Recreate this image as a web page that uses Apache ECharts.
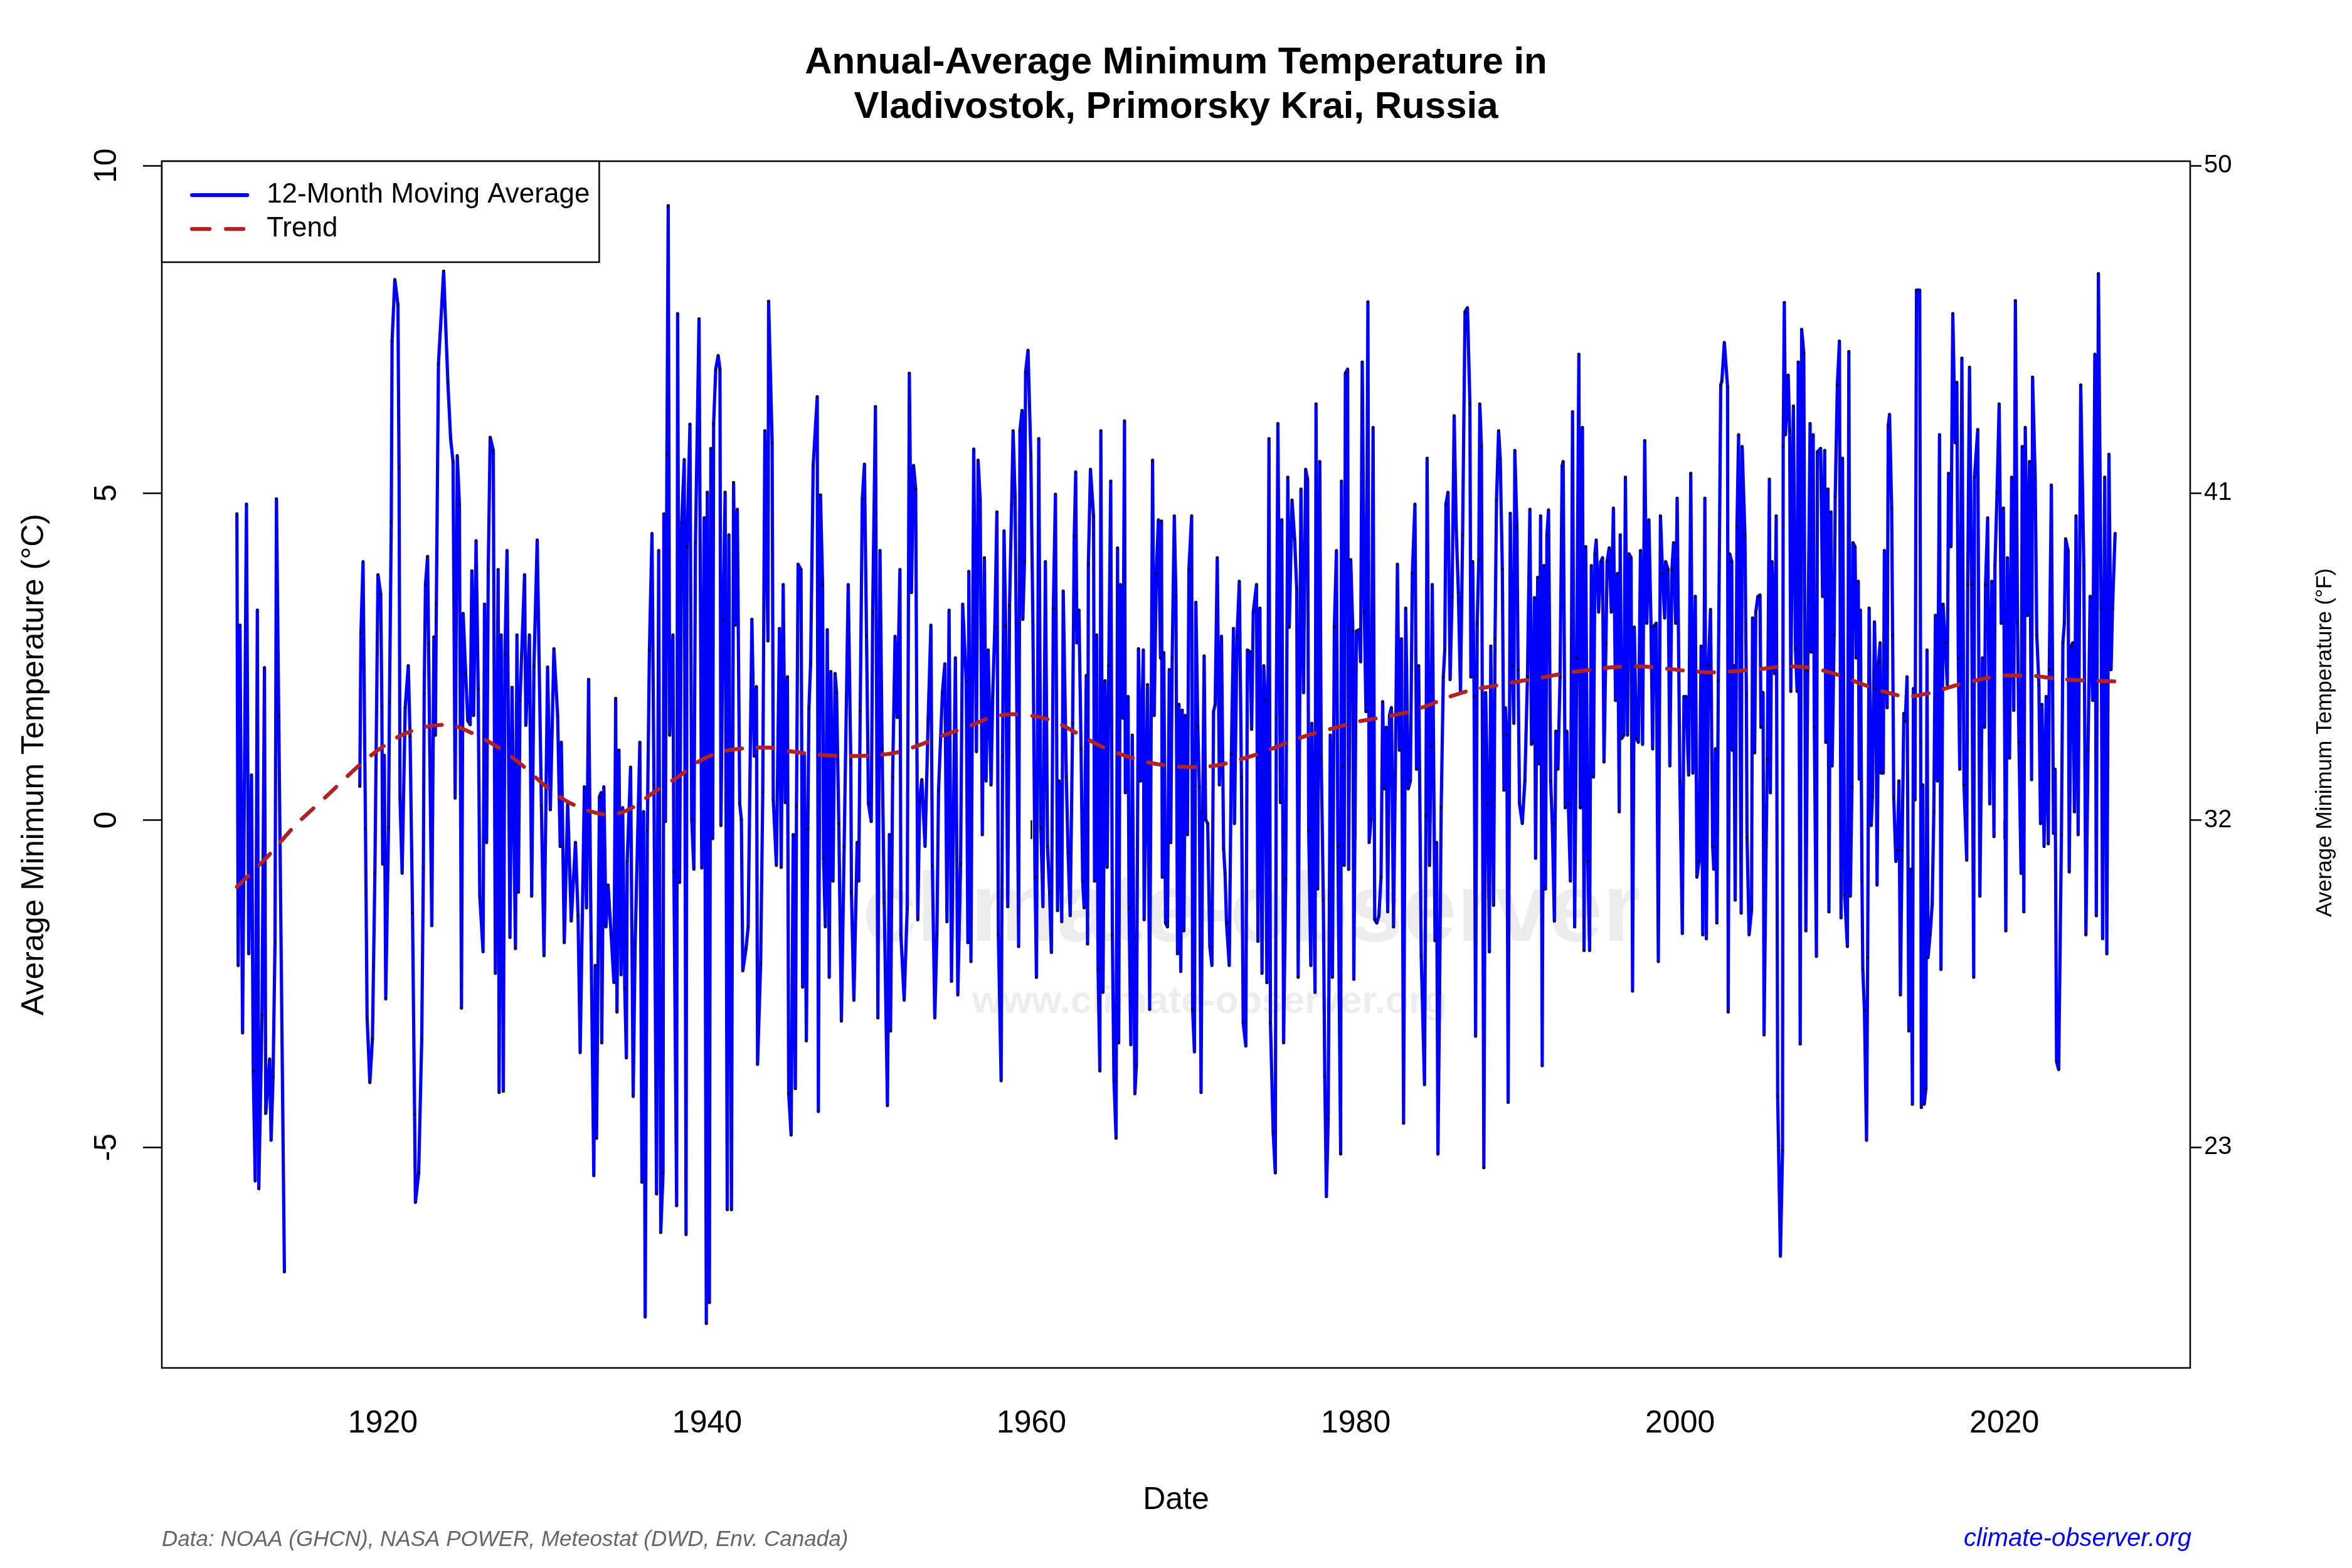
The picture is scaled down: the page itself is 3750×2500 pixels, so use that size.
<!DOCTYPE html>
<html>
<head>
<meta charset="utf-8">
<title>Annual-Average Minimum Temperature in Vladivostok</title>
<script src="https://cdn.jsdelivr.net/npm/echarts/dist/echarts.min.js"></script>
<style>
  html, body { margin: 0; padding: 0; background: #fff; }
  #main { width: 3750px; height: 2500px; }
</style>
</head>
<body>
<div id="main"></div>
<script>
// 12-month moving average of minimum temperature, [decimal year, degC]
var movingAvg = [
  [1911.00,4.68],[1911.08,-2.22],[1911.19,2.98],[1911.35,-3.25],[1911.59,4.83],[1911.73,-2.04],[1911.90,0.69],[1912.01,-3.84],
  [1912.13,-5.51],[1912.26,3.21],[1912.35,-5.63],[1912.55,-2.98],[1912.70,2.33],[1912.78,-4.48],[1913.02,-3.65],[1913.11,-4.89],
  [1913.23,-3.92],[1913.35,-1.87],[1913.44,4.91],[1913.58,1.60],[1913.93,-6.90],
  [1916.20,null],
  [1918.58,0.52],[1918.65,2.87],[1918.78,3.95],[1918.93,-0.13],[1919.03,-3.02],[1919.20,-4.01],[1919.36,-3.34],[1919.51,-0.81],
  [1919.70,3.75],[1919.87,3.45],[1919.94,1.74],[1919.99,-0.67],[1920.09,0.99],[1920.18,-2.73],[1920.35,-0.11],[1920.41,1.80],
  [1920.52,4.56],[1920.57,7.32],[1920.74,8.26],[1920.93,7.88],[1921.00,5.38],[1921.06,0.34],[1921.19,-0.81],[1921.38,1.72],
  [1921.57,2.36],[1921.68,1.28],[1921.83,-1.42],[1921.96,-4.49],[1922.01,-5.84],[1922.21,-5.39],[1922.40,-3.34],[1922.50,-0.72],
  [1922.55,1.94],[1922.63,3.60],[1922.76,4.03],[1922.82,2.69],[1923.02,-1.61],[1923.15,2.80],[1923.24,1.30],[1923.30,3.30],
  [1923.43,6.97],[1923.75,8.39],[1924.01,6.69],[1924.18,5.83],[1924.33,5.48],[1924.46,0.34],[1924.59,5.57],[1924.72,4.83],
  [1924.85,-2.87],[1924.95,3.16],[1925.11,2.24],[1925.24,1.52],[1925.39,1.46],[1925.49,3.81],[1925.60,1.60],[1925.75,4.27],
  [1925.88,2.01],[1925.98,-1.16],[1926.18,-2.01],[1926.27,3.30],[1926.40,-0.34],[1926.50,3.83],[1926.62,5.85],[1926.81,5.65],
  [1926.94,-2.34],[1927.11,3.83],[1927.17,-4.16],[1927.30,2.83],[1927.43,-4.14],[1927.53,2.54],[1927.66,4.12],[1927.84,-1.79],
  [1927.97,2.03],[1928.18,-1.96],[1928.27,2.83],[1928.36,-1.10],[1928.46,1.83],[1928.74,3.75],[1928.82,1.45],[1929.04,2.83],
  [1929.18,-1.16],[1929.32,2.36],[1929.52,4.28],[1929.78,0.22],[1929.94,-2.07],[1930.16,2.34],[1930.33,0.16],[1930.55,2.62],
  [1930.78,1.60],[1930.94,-0.40],[1931.01,1.19],[1931.19,-1.87],[1931.40,0.25],[1931.62,-1.54],[1931.88,-0.34],[1932.04,-1.46],
  [1932.17,-3.55],[1932.43,0.51],[1932.56,-1.34],[1932.69,2.15],[1932.84,-1.79],[1933.01,-5.43],[1933.10,-2.22],[1933.18,-4.86],
  [1933.36,0.36],[1933.46,0.42],[1933.50,-3.40],[1933.63,0.51],[1933.76,-1.63],[1933.89,-0.99],[1934.08,-1.75],[1934.25,-2.48],
  [1934.36,1.86],[1934.44,-2.93],[1934.56,1.07],[1934.69,-2.36],[1934.79,0.19],[1934.92,-2.57],[1935.02,-3.63],[1935.07,-0.63],
  [1935.28,0.81],[1935.44,-4.22],[1935.56,-1.89],[1935.85,1.19],[1935.98,-5.53],[1936.08,0.13],[1936.18,-7.59],[1936.31,-0.16],
  [1936.44,2.60],[1936.60,4.38],[1936.72,0.54],[1936.88,-5.71],[1937.01,4.12],[1937.14,-6.30],[1937.28,-5.39],[1937.33,4.68],
  [1937.43,-0.02],[1937.52,5.59],[1937.60,9.39],[1937.69,1.30],[1937.89,2.83],[1937.95,-0.79],[1938.12,-5.89],[1938.18,7.74],
  [1938.30,-0.95],[1938.43,4.54],[1938.59,5.51],[1938.70,-6.33],[1938.76,4.18],[1938.94,6.05],[1939.05,0.01],[1939.18,-0.75],
  [1939.28,4.24],[1939.50,7.66],[1939.67,-0.73],[1939.82,4.62],[1939.95,-7.69],[1940.01,5.01],[1940.14,-7.37],[1940.23,5.68],
  [1940.34,-0.28],[1940.40,6.06],[1940.53,6.89],[1940.68,7.10],[1940.79,6.89],[1940.85,-0.08],[1940.98,3.07],[1941.11,5.01],
  [1941.24,-5.95],[1941.34,4.36],[1941.50,-5.95],[1941.63,5.16],[1941.73,2.98],[1941.86,4.75],[1942.01,0.25],[1942.11,0.01],
  [1942.20,-2.30],[1942.40,-1.96],[1942.53,-1.63],[1942.76,3.07],[1942.91,0.98],[1943.04,2.04],[1943.11,-3.73],[1943.30,-2.19],
  [1943.43,0.42],[1943.56,5.95],[1943.75,2.74],[1943.79,7.93],[1944.01,5.77],[1944.08,0.31],[1944.27,-0.69],[1944.46,2.93],
  [1944.57,-0.72],[1944.69,3.60],[1944.82,0.27],[1944.95,2.19],[1945.03,-4.18],[1945.18,-4.81],[1945.31,-0.22],[1945.44,-4.10],
  [1945.51,0.21],[1945.61,3.91],[1945.79,3.83],[1945.89,-2.55],[1945.99,1.01],[1946.12,-3.37],[1946.21,-0.13],[1946.28,1.72],
  [1946.38,2.39],[1946.54,5.42],[1946.79,6.47],[1946.86,-4.45],[1946.99,4.97],[1947.12,3.60],[1947.18,-0.58],[1947.29,-1.63],
  [1947.41,2.91],[1947.53,-2.40],[1947.63,2.27],[1947.76,-0.93],[1947.89,2.24],[1947.98,1.95],[1948.12,-0.05],[1948.28,-3.07],
  [1948.45,-0.40],[1948.70,3.60],[1948.86,0.89],[1948.90,-1.10],[1949.05,-2.75],[1949.25,-0.34],[1949.35,-0.93],[1949.44,1.68],
  [1949.57,4.91],[1949.70,5.44],[1949.83,2.81],[1949.95,0.25],[1950.12,-0.02],[1950.21,3.18],[1950.38,6.32],[1950.53,-3.02],
  [1950.66,4.12],[1950.79,1.09],[1950.92,-1.26],[1951.12,-4.36],[1951.24,-0.22],[1951.31,-3.22],[1951.44,0.66],[1951.59,2.81],
  [1951.72,1.57],[1951.89,3.83],[1951.95,-1.75],[1952.15,-2.75],[1952.34,-1.34],[1952.47,6.83],[1952.60,3.48],[1952.73,5.42],
  [1952.86,5.06],[1952.99,-1.52],[1953.11,0.31],[1953.24,0.62],[1953.44,-0.40],[1953.63,1.54],[1953.80,2.98],[1953.89,-0.69],
  [1954.04,-3.02],[1954.17,-1.75],[1954.27,0.45],[1954.51,1.95],[1954.66,2.39],[1954.79,-1.55],[1954.92,3.21],[1955.07,-2.46],
  [1955.31,2.48],[1955.46,-2.67],[1955.63,-0.67],[1955.76,3.30],[1955.98,2.13],[1956.08,-1.87],[1956.14,3.80],[1956.27,-2.16],
  [1956.44,5.67],[1956.61,1.05],[1956.71,5.50],[1956.84,4.89],[1956.97,-0.22],[1957.10,4.01],[1957.20,0.60],[1957.33,2.60],
  [1957.51,0.54],[1957.61,1.89],[1957.74,2.95],[1957.87,4.71],[1957.96,-1.75],[1958.13,-3.98],[1958.22,0.98],[1958.31,4.42],
  [1958.41,2.97],[1958.54,-1.32],[1958.65,3.28],[1958.78,4.83],[1958.87,5.95],[1958.99,4.95],[1959.06,3.01],[1959.21,-1.93],
  [1959.29,5.95],[1959.42,6.26],[1959.47,3.07],[1959.57,3.95],[1959.64,6.85],[1959.79,7.18],[1959.96,5.59],[1960.09,3.03],
  [1960.22,-0.87],[1960.31,-2.40],[1960.45,5.83],[1960.58,-0.11],[1960.71,-1.32],[1960.86,3.95],[1960.99,-0.40],[1961.12,-1.10],
  [1961.23,-2.02],[1961.35,3.24],[1961.48,4.98],[1961.61,-1.38],[1961.70,0.60],[1961.87,-1.55],[1961.96,3.50],[1962.15,0.66],
  [1962.26,-0.49],[1962.39,-1.46],[1962.54,1.48],[1962.64,4.34],[1962.73,5.32],[1962.80,2.71],[1962.93,3.21],[1963.06,1.09],
  [1963.16,-0.93],[1963.25,-1.34],[1963.38,2.21],[1963.46,-1.89],[1963.51,3.91],[1963.64,5.36],[1963.83,4.65],[1963.89,-0.93],
  [1964.02,2.83],[1964.11,-2.28],[1964.22,-3.83],[1964.28,5.95],[1964.41,-2.63],[1964.54,2.13],[1964.67,-0.72],[1964.77,2.36],
  [1964.89,5.18],[1964.99,-1.75],[1965.09,-3.98],[1965.22,-4.86],[1965.31,4.16],[1965.38,-3.40],[1965.48,3.60],[1965.64,1.56],
  [1965.74,6.10],[1965.79,0.42],[1965.96,1.89],[1966.02,-1.34],[1966.13,-3.43],[1966.22,1.30],[1966.38,-4.18],[1966.47,-3.75],
  [1966.60,2.62],[1966.73,0.60],[1966.90,2.60],[1966.95,-1.52],[1967.16,2.07],[1967.29,-2.89],[1967.47,5.50],[1967.57,1.60],
  [1967.70,3.77],[1967.83,4.59],[1967.96,2.48],[1968.02,4.57],[1968.07,-0.87],[1968.16,2.56],[1968.27,-1.57],[1968.39,-1.63],
  [1968.50,2.30],[1968.59,-0.34],[1968.68,2.48],[1968.81,4.65],[1968.91,3.42],[1969.01,-2.04],[1969.10,1.77],[1969.21,-2.31],
  [1969.30,1.68],[1969.40,-1.69],[1969.49,1.60],[1969.62,-0.22],[1969.71,3.83],[1969.88,4.65],[1969.94,-2.89],[1970.05,-3.54],
  [1970.14,3.33],[1970.26,1.42],[1970.35,0.51],[1970.46,-4.16],[1970.56,0.13],[1970.65,2.51],[1970.74,0.01],[1970.87,-0.05],
  [1971.00,-1.93],[1971.13,-2.22],[1971.23,1.66],[1971.33,1.77],[1971.46,4.01],[1971.59,0.54],[1971.72,2.81],[1971.85,-0.43],
  [1971.94,-0.81],[1972.03,-1.57],[1972.20,-2.22],[1972.33,1.01],[1972.46,2.93],[1972.52,-0.05],[1972.68,2.81],[1972.82,3.65],
  [1972.95,0.66],[1973.06,-3.10],[1973.22,-3.45],[1973.32,2.60],[1973.49,2.57],[1973.58,1.39],[1973.68,3.18],[1973.88,3.60],
  [1973.97,-1.85],[1974.09,3.24],[1974.22,-2.34],[1974.33,2.36],[1974.42,1.83],[1974.52,-2.48],[1974.65,5.83],[1974.74,-3.10],
  [1974.91,-4.78],[1975.04,-5.39],[1975.10,1.56],[1975.20,6.06],[1975.36,0.27],[1975.44,4.59],[1975.55,-3.40],[1975.68,-0.90],
  [1975.81,5.24],[1975.90,2.95],[1976.07,4.89],[1976.23,4.30],[1976.36,3.54],[1976.45,-2.40],[1976.62,5.06],[1976.78,1.95],
  [1976.91,5.36],[1977.03,5.21],[1977.10,-0.16],[1977.23,-2.22],[1977.29,1.48],[1977.49,-2.63],[1977.55,6.36],[1977.65,-1.05],
  [1977.78,5.48],[1977.87,0.95],[1978.00,-1.22],[1978.09,-3.92],[1978.19,-5.75],[1978.30,-4.57],[1978.43,1.30],[1978.56,-2.40],
  [1978.68,2.95],[1978.81,4.12],[1978.90,-0.40],[1979.07,-5.10],[1979.12,5.18],[1979.23,0.83],[1979.29,-0.69],[1979.36,6.83],
  [1979.50,6.89],[1979.56,-0.75],[1979.69,3.98],[1979.82,2.89],[1979.88,-2.43],[1980.04,2.89],[1980.21,2.91],[1980.30,2.42],
  [1980.40,7.00],[1980.53,3.18],[1980.63,1.66],[1980.75,7.92],[1980.83,-0.34],[1980.94,0.01],[1981.07,6.00],[1981.17,-1.52],
  [1981.30,-1.57],[1981.43,-1.46],[1981.56,-0.87],[1981.66,1.81],[1981.75,0.48],[1981.88,1.42],[1981.97,-1.40],[1982.08,1.60],
  [1982.20,1.72],[1982.33,-1.63],[1982.44,0.72],[1982.57,3.91],[1982.69,1.07],[1982.82,2.77],[1982.95,-4.63],[1983.08,3.24],
  [1983.24,0.48],[1983.37,0.60],[1983.49,3.77],[1983.65,4.83],[1983.75,0.78],[1983.88,2.36],[1984.04,-2.08],[1984.24,-4.04],
  [1984.33,0.07],[1984.40,5.53],[1984.55,-0.69],[1984.65,1.13],[1984.72,3.60],[1984.89,-1.84],[1984.98,-0.34],[1985.07,-5.10],
  [1985.17,-2.63],[1985.27,0.19],[1985.40,2.19],[1985.49,2.60],[1985.56,4.83],[1985.69,5.01],[1985.82,2.15],[1985.94,3.42],
  [1986.07,6.18],[1986.20,4.42],[1986.33,3.48],[1986.46,1.95],[1986.59,4.36],[1986.74,7.77],[1986.89,7.83],[1987.04,6.36],
  [1987.10,2.19],[1987.21,3.95],[1987.30,1.89],[1987.39,-3.30],[1987.49,3.01],[1987.59,3.98],[1987.65,6.36],[1987.75,5.71],
  [1987.90,-5.31],[1988.01,1.95],[1988.14,0.25],[1988.24,-2.01],[1988.33,2.66],[1988.50,-1.30],[1988.59,2.77],[1988.68,4.89],
  [1988.81,5.95],[1988.91,5.53],[1989.04,3.83],[1989.14,0.46],[1989.23,1.72],[1989.32,1.30],[1989.40,-4.31],[1989.53,4.69],
  [1989.66,2.36],[1989.75,1.48],[1989.81,5.65],[1989.94,4.48],[1990.01,2.30],[1990.10,0.25],[1990.27,-0.05],[1990.43,0.60],
  [1990.59,2.19],[1990.74,4.75],[1990.84,1.16],[1990.91,1.19],[1991.02,3.40],[1991.09,-0.58],[1991.22,3.71],[1991.31,0.86],
  [1991.40,4.65],[1991.50,-3.75],[1991.60,3.89],[1991.70,-1.05],[1991.79,4.36],[1991.89,4.74],[1992.02,0.60],[1992.12,-0.05],
  [1992.25,-1.54],[1992.34,1.36],[1992.47,0.78],[1992.60,2.19],[1992.73,5.42],[1992.79,5.48],[1992.92,0.19],[1993.02,1.36],
  [1993.11,0.25],[1993.24,-0.93],[1993.37,6.24],[1993.50,-1.63],[1993.63,2.48],[1993.76,7.12],[1993.85,0.19],[1993.98,6.00],
  [1994.08,-1.99],[1994.18,4.18],[1994.31,-0.63],[1994.42,-1.99],[1994.53,3.89],[1994.66,0.66],[1994.75,4.07],[1994.83,4.28],
  [1994.98,3.18],[1995.11,3.95],[1995.22,4.01],[1995.31,0.89],[1995.43,2.71],[1995.50,3.95],[1995.63,4.16],[1995.76,3.18],
  [1995.89,4.77],[1996.02,1.83],[1996.14,3.77],[1996.25,0.13],[1996.31,4.36],[1996.40,1.25],[1996.53,1.30],[1996.63,5.24],
  [1996.76,1.30],[1996.85,4.07],[1996.98,4.01],[1997.07,-2.61],[1997.18,2.95],[1997.30,1.25],[1997.43,1.19],[1997.56,4.12],
  [1997.69,1.16],[1997.82,5.80],[1997.95,3.01],[1998.08,4.59],[1998.21,2.95],[1998.31,1.09],[1998.40,2.97],[1998.53,3.01],
  [1998.66,-2.16],[1998.79,4.65],[1998.92,3.77],[1999.05,3.09],[1999.11,3.95],[1999.26,3.83],[1999.37,0.83],[1999.50,3.83],
  [1999.60,4.24],[1999.73,3.01],[1999.82,4.92],[1999.99,0.60],[2000.14,-1.73],[2000.24,1.89],[2000.37,1.89],[2000.53,0.69],
  [2000.66,5.30],[2000.79,0.72],[2000.94,3.42],[2001.04,-0.87],[2001.17,-0.63],[2001.30,2.66],[2001.40,-1.75],[2001.53,4.92],
  [2001.62,-1.81],[2001.75,2.36],[2001.88,3.22],[2002.01,-0.40],[2002.08,-0.75],[2002.18,1.09],[2002.27,-1.57],[2002.36,2.13],
  [2002.51,6.65],[2002.58,6.71],[2002.73,7.30],[2002.93,6.62],[2002.97,-2.93],[2003.06,4.07],[2003.19,3.95],[2003.22,1.07],
  [2003.31,2.36],[2003.40,-1.22],[2003.51,4.48],[2003.61,5.89],[2003.77,-1.42],[2003.83,5.71],[2004.00,4.36],[2004.09,1.92],
  [2004.13,-0.26],[2004.26,-1.75],[2004.41,-1.37],[2004.47,3.09],[2004.60,1.03],[2004.67,3.18],[2004.80,3.42],[2004.93,3.44],
  [2004.99,1.42],[2005.12,1.95],[2005.18,-3.28],[2005.31,-0.34],[2005.38,0.93],[2005.51,5.21],[2005.57,0.42],[2005.67,3.95],
  [2005.83,2.24],[2005.93,4.65],[2006.02,-4.22],[2006.19,-6.66],[2006.32,-5.04],[2006.36,5.71],[2006.43,7.91],[2006.50,5.89],
  [2006.67,6.80],[2006.76,5.95],[2006.83,1.97],[2006.99,6.33],[2007.12,2.62],[2007.22,1.97],[2007.29,7.00],[2007.41,-3.42],
  [2007.50,7.50],[2007.63,7.14],[2007.76,-1.69],[2007.87,2.28],[2008.02,6.06],[2008.08,2.57],[2008.21,5.89],[2008.28,1.42],
  [2008.41,-2.08],[2008.47,5.63],[2008.67,5.68],[2008.79,3.42],[2008.92,5.65],[2008.99,1.19],[2009.12,5.06],[2009.18,-1.40],
  [2009.31,4.71],[2009.38,0.83],[2009.50,2.83],[2009.57,4.95],[2009.70,6.65],[2009.83,7.32],[2009.93,-1.49],[2010.02,5.53],
  [2010.15,-1.14],[2010.32,-1.93],[2010.41,7.16],[2010.50,-1.16],[2010.60,0.51],[2010.66,4.24],[2010.79,4.18],[2010.86,2.48],
  [2010.99,3.65],[2011.05,0.63],[2011.12,3.21],[2011.22,-0.93],[2011.27,-2.28],[2011.37,-2.90],[2011.50,-4.89],[2011.57,-2.10],
  [2011.66,3.24],[2011.79,-0.08],[2011.86,0.36],[2011.99,3.03],[2012.08,2.01],[2012.15,-0.99],[2012.25,2.42],[2012.34,2.71],
  [2012.40,0.72],[2012.53,0.72],[2012.60,4.12],[2012.77,1.72],[2012.84,6.03],[2012.92,6.20],[2013.05,4.77],[2013.11,2.83],
  [2013.18,0.34],[2013.31,-0.63],[2013.41,-0.46],[2013.50,0.60],[2013.59,-2.67],[2013.69,-0.46],[2013.80,1.63],[2013.89,1.52],
  [2014.00,2.19],[2014.11,-3.22],[2014.24,-0.75],[2014.33,-4.34],[2014.39,2.01],[2014.49,0.31],[2014.58,8.10],[2014.78,8.10],
  [2014.84,1.19],[2014.88,-4.39],[2014.97,0.54],[2015.06,-4.34],[2015.16,-4.10],[2015.23,2.60],[2015.29,-2.10],[2015.42,-1.75],
  [2015.55,-1.28],[2015.65,0.13],[2015.75,3.13],[2015.87,0.60],[2016.00,5.89],[2016.09,-2.28],[2016.22,3.30],[2016.35,2.71],
  [2016.48,2.07],[2016.56,5.30],[2016.71,4.18],[2016.82,7.74],[2016.97,5.77],[2017.07,6.69],[2017.16,2.48],[2017.25,0.78],
  [2017.38,7.06],[2017.51,0.54],[2017.68,-0.61],[2017.74,3.60],[2017.85,6.92],[2017.98,3.60],[2018.11,-2.40],[2018.16,5.24],
  [2018.36,5.97],[2018.49,-1.16],[2018.65,2.48],[2018.78,1.42],[2018.84,3.60],[2018.97,4.62],[2019.10,0.25],[2019.23,3.65],
  [2019.36,-0.25],[2019.42,3.89],[2019.55,5.01],[2019.68,6.36],[2019.81,3.01],[2019.94,4.77],[2020.09,-1.69],[2020.19,4.01],
  [2020.32,0.95],[2020.45,5.24],[2020.58,1.68],[2020.68,7.94],[2020.81,3.01],[2020.90,1.19],[2021.03,-0.81],[2021.10,5.71],
  [2021.20,-1.40],[2021.29,6.00],[2021.42,3.13],[2021.55,5.48],[2021.68,0.62],[2021.74,6.77],[2021.90,5.24],[2022.00,2.83],
  [2022.13,2.07],[2022.23,-0.05],[2022.32,1.77],[2022.45,-0.40],[2022.58,1.89],[2022.71,-0.36],[2022.77,2.30],[2022.90,5.12],
  [2023.03,-0.20],[2023.13,0.78],[2023.22,-3.69],[2023.35,-3.81],[2023.52,-0.22],[2023.61,2.71],[2023.70,3.01],[2023.78,4.30],
  [2023.93,4.12],[2024.00,-0.79],[2024.13,2.66],[2024.22,2.71],[2024.32,0.13],[2024.42,4.65],[2024.55,-0.22],[2024.71,6.65],
  [2024.90,3.89],[2025.03,-1.75],[2025.16,1.07],[2025.29,3.42],[2025.45,1.83],[2025.58,7.12],[2025.67,-1.46],[2025.80,8.35],
  [2025.97,3.24],[2026.06,-1.81],[2026.19,5.24],[2026.32,-2.04],[2026.45,5.59],[2026.58,2.30],[2026.67,3.24],[2026.83,4.38]
];

// smoothed trend, [decimal year, degC]
var trend = [
  [1911.0,-1.02],[1912.8,-0.58],[1914.6,-0.08],[1916.5,0.36],[1918.5,0.83],[1919.7,1.07],[1921.0,1.28],[1922.5,1.42],
  [1924.0,1.46],[1925.6,1.32],[1927.0,1.13],[1928.4,0.88],[1929.9,0.55],[1931.2,0.31],[1932.6,0.15],[1934.0,0.08],
  [1935.3,0.18],[1936.9,0.46],[1938.2,0.66],[1939.5,0.90],[1940.8,1.04],[1942.3,1.10],[1943.8,1.11],[1945.2,1.05],
  [1946.9,1.00],[1948.4,0.98],[1950.2,0.99],[1951.6,1.03],[1953.0,1.14],[1954.6,1.30],[1956.1,1.43],[1957.5,1.57],
  [1958.8,1.62],[1960.2,1.59],[1961.5,1.50],[1962.8,1.33],[1964.2,1.14],[1965.6,1.00],[1967.1,0.89],[1968.5,0.83],
  [1970.0,0.81],[1971.5,0.84],[1972.9,0.93],[1974.3,1.04],[1975.7,1.18],[1977.2,1.31],[1978.7,1.41],[1980.2,1.51],
  [1981.6,1.57],[1983.0,1.64],[1984.3,1.74],[1985.6,1.87],[1987.0,1.98],[1988.5,2.05],[1990.0,2.12],[1991.5,2.18],
  [1993.0,2.25],[1994.5,2.30],[1996.0,2.34],[1997.5,2.35],[1999.0,2.32],[2000.5,2.28],[2002.0,2.26],[2003.5,2.28],
  [2005.0,2.31],[2006.5,2.35],[2008.0,2.33],[2009.5,2.24],[2011.0,2.10],[2012.5,1.97],[2014.0,1.89],[2015.5,1.95],
  [2017.0,2.06],[2018.5,2.15],[2020.0,2.21],[2021.5,2.21],[2023.0,2.17],[2024.5,2.14],[2026.8,2.12]
];

var yearTicks = [1920, 1940, 1960, 1980, 2000, 2020];
var celsiusTicks = [-5, 0, 5, 10];

var FONT = 'Liberation Sans, Arial, Helvetica, sans-serif';
var BLUE = '#0000ff';
var RED = '#b22222';

var chart = echarts.init(document.getElementById('main'));

chart.setOption({
  animation: false,
  backgroundColor: '#fff',
  title: {
    text: 'Annual-Average Minimum Temperature in\nVladivostok, Primorsky Krai, Russia',
    left: 'center',
    top: 60,
    textStyle: { fontFamily: FONT, fontSize: 60, fontWeight: 'bold', lineHeight: 71, color: '#000' }
  },
  legend: {
    orient: 'vertical',
    left: 258,
    top: 257,
    backgroundColor: '#fff',
    borderColor: '#000',
    borderWidth: 2.5,
    borderRadius: 0,
    padding: [27, 15, 26, 45],
    itemWidth: 88,
    itemHeight: 14,
    itemGap: 0,
    textStyle: { fontFamily: FONT, fontSize: 44, lineHeight: 54, color: '#000', padding: [0, 0, 0, 26] },
    data: [
      { name: '12-Month Moving Average', itemStyle: { opacity: 0 },
        lineStyle: { color: BLUE, width: 6.25, cap: 'round' } },
      { name: 'Trend', itemStyle: { opacity: 0 },
        lineStyle: { color: RED, width: 6.25, type: [28, 26], cap: 'round' } }
    ]
  },
  grid: {
    left: 258, right: 258, top: 257, bottom: 319,
    show: true, borderColor: '#000', borderWidth: 2.5, backgroundColor: 'transparent'
  },
  xAxis: {
    type: 'value',
    min: 1906.37,
    max: 2031.46,
    axisLine: { show: false },
    splitLine: { show: false },
    axisTick: { show: true, customValues: yearTicks, length: 30, lineStyle: { color: '#000', width: 2.5 } },
    axisLabel: {
      customValues: yearTicks, fontFamily: FONT, fontSize: 50, color: '#000', margin: 64,
      formatter: function (v) { return String(v); }
    },
    name: 'Date',
    nameLocation: 'middle',
    nameGap: 186,
    nameTextStyle: { fontFamily: FONT, fontSize: 50, color: '#000' }
  },
  yAxis: [{
    type: 'value',
    position: 'left',
    min: -8.37,
    max: 10.07,
    axisLine: { show: false },
    splitLine: { show: false },
    axisTick: { show: true, customValues: celsiusTicks, length: 30, lineStyle: { color: '#000', width: 2.5 } },
    axisLabel: {
      customValues: celsiusTicks, rotate: 90, fontFamily: FONT, fontSize: 50, color: '#000', margin: 62,
      formatter: function (v) { return String(v); }
    },
    name: 'Average Minimum Temperature (°C)',
    nameLocation: 'middle',
    nameRotate: 90,
    nameGap: 178,
    nameTextStyle: { fontFamily: FONT, fontSize: 50, color: '#000' }
  }, {
    type: 'value',
    position: 'right',
    min: -8.37,
    max: 10.07,
    axisLine: { show: false },
    splitLine: { show: false },
    axisTick: { show: true, customValues: celsiusTicks, length: 18, lineStyle: { color: '#000', width: 2.5 } },
    axisLabel: {
      customValues: celsiusTicks, fontFamily: FONT, fontSize: 40, color: '#000', margin: 22,
      formatter: function (v) { return String(Math.round(v * 9 / 5 + 32)); }
    },
    name: 'Average Minimum Temperature (°F)',
    nameLocation: 'middle',
    nameRotate: 90,
    nameGap: 198,
    nameTextStyle: { fontFamily: FONT, fontSize: 35, color: '#000', padding: [0, 0, 0, 70] }
  }],
  graphic: [
    {
      type: 'text', left: 1375, top: 1380, z: -10, silent: true,
      style: { text: 'climate-observer', font: 'bold 155px ' + FONT, fill: '#ececec' }
    },
    {
      type: 'text', left: 1550, top: 1568, z: -10, silent: true,
      style: { text: 'www.climate-observer.org', font: 'bold 61px ' + FONT, fill: '#ededed' }
    },
    {
      type: 'text', left: 258, top: 2438,
      style: { text: 'Data: NOAA (GHCN), NASA POWER, Meteostat (DWD, Env. Canada)', font: 'italic 35px ' + FONT, fill: '#666' }
    },
    {
      type: 'text', right: 256, top: 2434,
      style: { text: 'climate-observer.org', font: 'italic 40px ' + FONT, fill: BLUE }
    }
  ],
  series: [{
    name: '12-Month Moving Average',
    type: 'line',
    data: movingAvg,
    showSymbol: false,
    symbol: 'none',
    connectNulls: false,
    lineStyle: { color: BLUE, width: 5.2, join: 'round', cap: 'round' },
    itemStyle: { color: BLUE },
    z: 2
  }, {
    name: 'points',
    type: 'scatter',
    data: movingAvg,
    symbolSize: 4.5,
    itemStyle: { color: '#000' },
    silent: true,
    z: 3
  }, {
    name: 'Trend',
    type: 'line',
    data: trend,
    smooth: 0.3,
    showSymbol: false,
    symbol: 'none',
    lineStyle: { color: RED, width: 6.25, type: [25, 25], cap: 'round' },
    itemStyle: { color: RED },
    z: 4
  }]
});
</script>
</body>
</html>
